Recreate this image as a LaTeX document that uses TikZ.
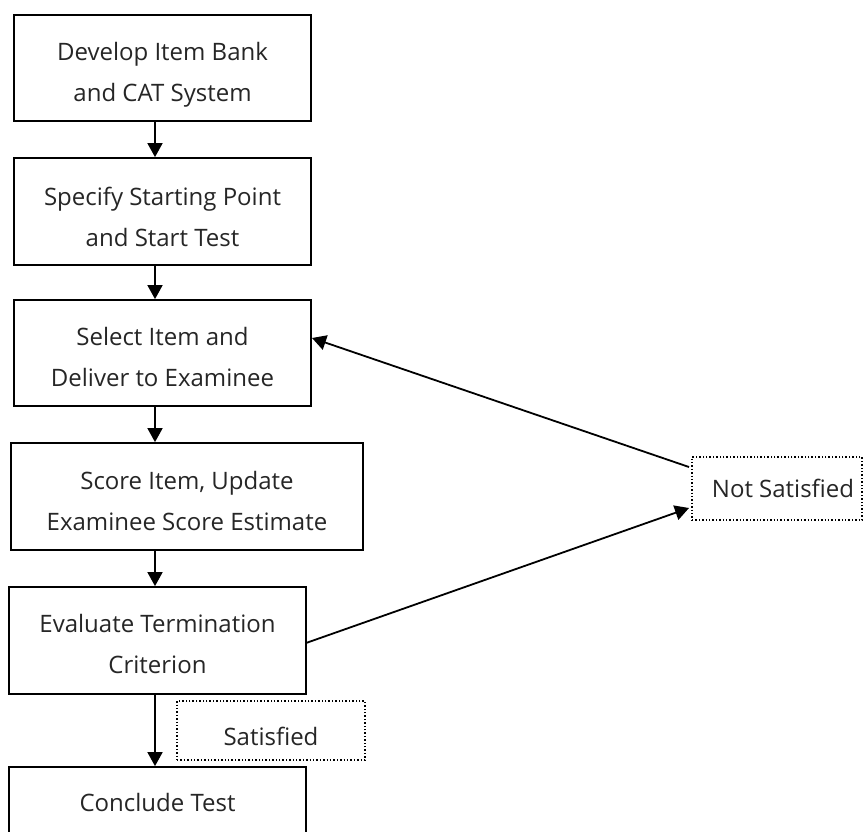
\documentclass[tikz,border=0pt]{standalone}
\usepackage{fontspec}
\setmainfont{Open Sans}
\usetikzlibrary{arrows.meta}
\begin{document}
\begin{tikzpicture}[x=1pt,y=-1pt,
  boxstyle/.style={draw=black,line width=1.8pt,rectangle,align=center,inner sep=0pt},
  labelbox/.style={draw=black,dotted,line width=1.4pt,rectangle,inner sep=0pt},
  arr/.style={line width=1.8pt,-{Triangle[width=15pt,length=14pt]}},
  txt/.style={font=\fontsize{24}{41}\selectfont,align=center,text=black!85}]
\useasboundingbox (0,0) rectangle (864,831);
\fill[white] (0,0) rectangle (864,831);
\node[boxstyle,minimum width=297pt,minimum height=106pt] (b1) at (162.5,68) {};
\node[txt] at (162.5,75) {Develop Item Bank\\and CAT System};
\node[boxstyle,minimum width=297pt,minimum height=107pt] (b2) at (162.5,211.5) {};
\node[txt] at (162.5,217) {Specify Starting Point\\and Start Test};
\node[boxstyle,minimum width=297pt,minimum height=106pt] (b3) at (162.5,353) {};
\node[txt] at (162.5,357) {Select Item and\\Deliver to Examinee};
\node[boxstyle,minimum width=352pt,minimum height=107pt] (b4) at (187,496.5) {};
\node[txt] at (187,500.5) {Score Item, Update\\Examinee Score Estimate};
\node[boxstyle,minimum width=297pt,minimum height=107pt] (b5) at (157.5,640.5) {};
\node[txt] at (157.5,643.5) {Evaluate Termination\\Criterion};
\node[boxstyle,minimum width=297pt,minimum height=120pt] (b6) at (157.5,827) {};
\node[txt] at (157.5,802) {Conclude Test};
\node[labelbox,minimum width=170pt,minimum height=63pt] (ns) at (777,488.5) {};
\node[txt] at (783,488.5) {Not Satisfied};
\node[labelbox,minimum width=188pt,minimum height=59pt] (sat) at (271,730.5) {};
\node[txt] at (271,736) {Satisfied};
\coordinate (ax) at (155,0);
\draw[arr] (b1.south -| ax) -- (b2.north -| ax);
\draw[arr] (b2.south -| ax) -- (b3.north -| ax);
\draw[arr] (b3.south -| ax) -- (b4.north -| ax);
\draw[arr] (b4.south -| ax) -- (b5.north -| ax);
\draw[arr] (b5.south -| ax) -- (b6.north -| ax);
\coordinate (nsin) at (689,508);
\coordinate (nsout) at (689,467);
\coordinate (b3in) at (312,338);
\coordinate (b5out) at (306,643);
\draw[arr] (b5out) -- (nsin);
\draw[arr] (nsout) -- (b3in);
\end{tikzpicture}
\end{document}
